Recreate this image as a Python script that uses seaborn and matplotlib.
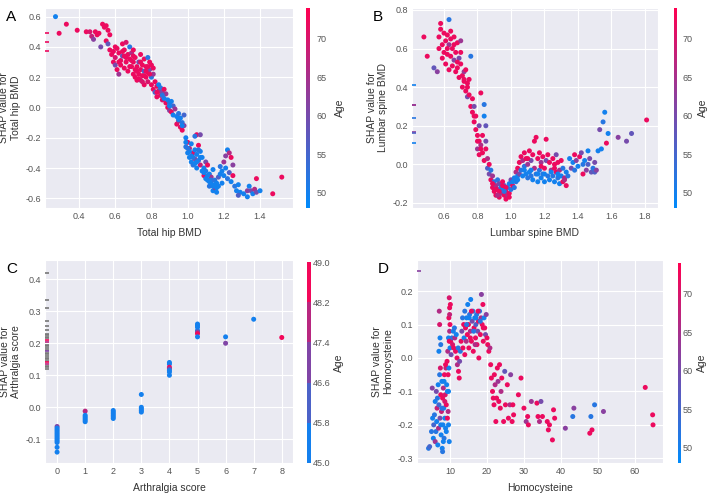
import numpy as np
import pandas as pd
import matplotlib
matplotlib.use('Agg')
import matplotlib.pyplot as plt
import matplotlib.colors as mcolors
from matplotlib.cm import ScalarMappable
import seaborn as sns

# ---- A: Total hip BMD ----
hip_bmd = [0.27, 0.29, 0.33, 0.39, 0.44, 0.46, 0.47, 0.48, 0.49, 0.50,
           0.51, 0.52, 0.53, 0.54, 0.55, 0.55, 0.56, 0.56, 0.57, 0.57,
           0.58, 0.59, 0.59, 0.60, 0.60, 0.61, 0.61, 0.62, 0.62, 0.63,
           0.63, 0.64, 0.64, 0.65, 0.65, 0.66, 0.66, 0.67, 0.67, 0.68,
           0.68, 0.69, 0.69, 0.70, 0.70, 0.70,
           0.71, 0.71, 0.72, 0.72, 0.73, 0.73, 0.74, 0.74, 0.74, 0.75,
           0.75, 0.76, 0.76, 0.76, 0.77, 0.77, 0.78, 0.78, 0.78, 0.79,
           0.79, 0.80, 0.80, 0.80, 0.81, 0.81,
           0.81, 0.82, 0.82, 0.83, 0.83, 0.84, 0.84, 0.85, 0.85, 0.86,
           0.86, 0.87, 0.87, 0.88, 0.88,
           0.89, 0.89, 0.90, 0.90, 0.91, 0.91, 0.92, 0.92, 0.93, 0.94,
           0.94, 0.95, 0.95, 0.96, 0.96, 0.97, 0.97, 0.98, 0.98,
           0.99, 0.99, 1.00, 1.00, 1.01, 1.01, 1.02, 1.02, 1.03, 1.03,
           1.04, 1.04, 1.05, 1.05, 1.06, 1.06, 1.07, 1.07, 1.08, 1.05,
           1.07, 1.04,
           1.09, 1.09, 1.10, 1.10, 1.11, 1.11, 1.12, 1.12, 1.13, 1.13,
           1.14, 1.14, 1.15, 1.15, 1.16, 1.16, 1.17, 1.17, 1.18,
           1.18, 1.19, 1.19, 1.20, 1.20, 1.21, 1.21, 1.22, 1.22, 1.23,
           1.23, 1.24, 1.24, 1.25, 1.25,
           1.26, 1.27, 1.28, 1.29, 1.28, 1.31, 1.33, 1.33, 1.34, 1.35,
           1.36, 1.37, 1.38, 1.38, 1.40, 1.47, 1.52,
           0.60, 0.62, 0.64, 0.66, 0.68, 0.70, 0.72, 0.74, 0.76, 0.78,
           0.65, 0.69, 0.73, 0.77, 0.71, 0.75, 0.79, 0.83, 0.86, 0.90,
           0.95, 0.97, 0.99, 1.01, 1.03, 1.05, 1.07, 1.09, 1.11, 1.13,
           1.15, 1.02, 1.06, 1.10, 1.14, 1.00, 1.04, 1.08, 1.12, 1.16]
hip_shap = [0.60, 0.49, 0.55, 0.51, 0.50, 0.50, 0.47, 0.45, 0.50, 0.48,
            0.49, 0.40, 0.55, 0.53, 0.54, 0.44, 0.51, 0.42, 0.48, 0.38,
            0.35, 0.37, 0.30, 0.33, 0.28, 0.25, 0.39, 0.22, 0.36, 0.31,
            0.28, 0.42, 0.34, 0.26, 0.38, 0.43, 0.30, 0.35, 0.24, 0.40,
            0.32, 0.27, 0.36, 0.22, 0.30, 0.38,
            0.33, 0.20, 0.27, 0.18, 0.30, 0.22, 0.35, 0.25, 0.18, 0.28,
            0.21, 0.32, 0.24, 0.15, 0.27, 0.20, 0.33, 0.23, 0.17, 0.30,
            0.25, 0.28, 0.20, 0.15, 0.22, 0.26,
            0.12, 0.17, 0.10, 0.14, 0.07, 0.15, 0.11, 0.08, 0.13, 0.05,
            0.10, 0.12, 0.06, 0.09, 0.03,
            0.05, 0.00, 0.03, -0.02, 0.04, -0.03, 0.01, -0.05, -0.01, -0.06,
            -0.11, -0.04, -0.09, -0.13, -0.07, -0.10, -0.15, -0.05, -0.12,
            -0.20, -0.26, -0.30, -0.23, -0.33, -0.27, -0.36, -0.24, -0.30, -0.38,
            -0.28, -0.34, -0.31, -0.40, -0.25, -0.35, -0.29, -0.38, -0.33, -0.18,
            -0.18, -0.19,
            -0.40, -0.45, -0.42, -0.36, -0.48, -0.38, -0.44, -0.52, -0.46, -0.50,
            -0.41, -0.55, -0.48, -0.53, -0.50, -0.56, -0.46, -0.52, -0.44,
            -0.39, -0.42, -0.50, -0.36, -0.45, -0.32, -0.40, -0.28, -0.47, -0.30,
            -0.43, -0.33, -0.49, -0.38, -0.45,
            -0.52, -0.55, -0.51, -0.56, -0.58, -0.57, -0.55, -0.59, -0.52, -0.55,
            -0.57, -0.54, -0.47, -0.56, -0.55, -0.57, -0.46,
            0.40, 0.30, 0.37, 0.33, 0.27, 0.34, 0.24, 0.30, 0.21, 0.27,
            0.34, 0.31, 0.19, 0.24, 0.25, 0.17, 0.22, 0.10, 0.08, 0.01,
            -0.08, -0.12, -0.23, -0.29, -0.33, -0.36, -0.33, -0.43, -0.45, -0.48,
            -0.51, -0.32, -0.28, -0.47, -0.52, -0.27, -0.37, -0.42, -0.49, -0.53]
hip_age = [50, 72, 72, 72, 72, 70, 68, 62, 72, 72,
           72, 60, 72, 72, 72, 72, 72, 58, 72, 72,
           72, 72, 72, 70, 60, 72, 72, 64, 72, 72,
           72, 72, 58, 72, 72, 70, 72, 72, 72, 52,
           72, 72, 66, 72, 72, 72,
           72, 72, 72, 72, 60, 72, 72, 72, 68, 72,
           72, 72, 55, 72, 72, 72, 52, 72, 70, 72,
           60, 72, 52, 72, 64, 72,
           72, 72, 55, 72, 72, 50, 66, 72, 52, 70,
           60, 72, 50, 64, 72,
           50, 72, 52, 62, 50, 72, 55, 50, 64, 50,
           72, 52, 66, 72, 50, 52, 72, 55, 62,
           50, 52, 50, 72, 50, 66, 50, 50, 72, 52,
           50, 60, 50, 50, 72, 52, 50, 68, 50, 72,
           60, 52,
           50, 72, 52, 60, 50, 72, 50, 52, 64, 50,
           50, 50, 52, 62, 50, 50, 56, 50, 50,
           52, 50, 50, 64, 50, 62, 50, 50, 52, 66,
           56, 72, 50, 62, 72,
           52, 50, 50, 50, 56, 50, 62, 50, 50, 60,
           50, 66, 72, 60, 50, 72, 72,
           72, 72, 72, 72, 72, 72, 72, 72, 72, 72,
           72, 72, 72, 72, 72, 70, 72, 72, 52, 50,
           50, 50, 50, 50, 52, 50, 50, 50, 50, 52,
           50, 50, 52, 50, 50, 52, 50, 50, 50, 50]
hip_nan_shap = [0.49, 0.43, 0.37]
hip_nan_age = [72, 72, 72]

# ---- B: Lumbar spine BMD ----
spine_bmd = [0.48, 0.50, 0.54, 0.56, 0.57, 0.58, 0.58, 0.57, 0.59, 0.59,
             0.60, 0.60, 0.61, 0.61, 0.62, 0.62, 0.63, 0.63, 0.63, 0.64,
             0.64, 0.65, 0.65, 0.66, 0.66, 0.67, 0.67, 0.68, 0.68, 0.69,
             0.69, 0.70, 0.70, 0.71, 0.71, 0.72, 0.72, 0.73, 0.73, 0.74,
             0.74, 0.75, 0.75, 0.76, 0.76, 0.77, 0.77, 0.78, 0.78, 0.79,
             0.79, 0.80, 0.80, 0.81, 0.81, 0.81, 0.82, 0.82, 0.83, 0.83,
             0.84, 0.84, 0.84, 0.85, 0.85, 0.85, 0.86, 0.86, 0.87, 0.87,
             0.88, 0.88, 0.89, 0.89, 0.90, 0.90, 0.91, 0.91, 0.92, 0.92,
             0.93, 0.93, 0.94, 0.94, 0.95, 0.95, 0.96, 0.96, 0.97, 0.97,
             0.98, 0.98, 0.99, 0.99, 1.00, 1.00, 1.01, 1.02, 1.02, 1.03,
             1.03, 1.04, 1.04, 1.05, 1.05, 1.06, 1.06, 1.07, 1.07, 1.08,
             1.08, 1.09, 1.09, 1.10, 1.10, 1.11, 1.11, 1.12, 1.12, 1.13,
             1.13, 1.14, 1.14, 1.15, 1.15, 1.16, 1.16, 1.17, 1.17, 1.18,
             1.18, 1.19, 1.19, 1.20, 1.20, 1.21, 1.21, 1.22, 1.22, 1.23,
             1.23, 1.24, 1.25, 1.25, 1.26, 1.26, 1.27, 1.27, 1.28, 1.28,
             1.29, 1.29, 1.30, 1.30, 1.31, 1.31, 1.32, 1.33, 1.33, 1.34,
             1.35, 1.36, 1.37, 1.38, 1.38, 1.39, 1.40, 1.41, 1.42, 1.43,
             1.43, 1.44, 1.45, 1.46, 1.46, 1.47, 1.48, 1.49, 1.50, 1.50,
             1.51, 1.52, 1.53, 1.54, 1.55, 1.56, 1.57, 1.58, 1.64, 1.69,
             1.72, 1.81,
             0.89, 0.91, 0.93, 0.95, 0.97, 0.99, 0.92, 0.96, 1.01, 1.04,
             1.08, 1.12, 1.16, 1.20, 1.24, 1.28, 1.32, 1.10, 1.18, 1.26,
             0.62, 0.66, 0.70, 0.74, 0.78, 0.80, 0.82, 0.64, 0.68, 0.72]
spine_shap = [0.66, 0.56, 0.50, 0.48, 0.66, 0.73, 0.70, 0.60, 0.62, 0.55,
              0.68, 0.58, 0.64, 0.52, 0.57, 0.67, 0.75, 0.62, 0.49, 0.69,
              0.56, 0.60, 0.51, 0.66, 0.54, 0.48, 0.58, 0.63, 0.50, 0.55,
              0.45, 0.64, 0.52, 0.46, 0.40, 0.48, 0.43, 0.49, 0.38, 0.42,
              0.35, 0.44, 0.36, 0.56, 0.30, 0.34, 0.27, 0.22, 0.30, 0.18,
              0.25, 0.15, 0.08, 0.20, 0.12, 0.05, 0.10, 0.37, 0.15, 0.06,
              0.25, 0.31, 0.02, 0.12, 0.08, 0.20, 0.03, -0.02, 0.00, -0.05,
              -0.03, -0.08, -0.06, -0.12, -0.09, -0.14, -0.11, -0.16, -0.08, -0.13,
              -0.10, -0.17, -0.12, -0.15, -0.09, -0.13, -0.16, -0.11, -0.14, -0.18,
              -0.12, -0.16, -0.10, -0.15, -0.13, -0.08, -0.11, -0.07, -0.12, -0.04,
              -0.09, -0.06, -0.02, -0.05, 0.01, -0.03, 0.04, -0.06, 0.02, -0.01,
              0.06, -0.05, 0.03, -0.07, 0.00, 0.07, -0.04, 0.02, -0.06, 0.05,
              -0.08, -0.02, 0.12, 0.14, -0.05, 0.03, -0.09, 0.06, -0.03, 0.01,
              -0.07, 0.04, -0.05, -0.02, -0.09, 0.02, 0.13, -0.06, 0.05, 0.01,
              -0.08, -0.03, 0.03, -0.06, 0.00, -0.09, -0.04, 0.05, -0.07, 0.01,
              -0.10, -0.03, 0.02, -0.06, -0.09, -0.02, -0.07, -0.04, -0.11, -0.06,
              0.03, -0.02, 0.01, 0.05, -0.03, 0.02, -0.01, 0.04, 0.06, -0.05,
              0.00, 0.02, -0.03, 0.07, 0.00, 0.03, -0.04, -0.02, 0.01, -0.04,
              -0.03, 0.07, 0.18, 0.08, 0.22, 0.27, 0.11, 0.16, 0.14, 0.12,
              0.16, 0.23,
              -0.10, -0.13, -0.14, -0.11, -0.12, -0.17, -0.16, -0.14, -0.09, -0.08,
              -0.03, -0.03, -0.05, -0.05, -0.04, -0.05, -0.08, 0.03, -0.01, -0.02,
              0.60, 0.62, 0.58, 0.40, 0.25, 0.12, 0.08, 0.65, 0.53, 0.44]
spine_age = [72, 72, 58, 62, 72, 72, 72, 72, 72, 72,
             72, 72, 72, 72, 72, 72, 52, 64, 72, 72,
             72, 72, 72, 72, 62, 72, 72, 72, 72, 60,
             72, 64, 72, 72, 72, 64, 72, 72, 72, 72,
             60, 72, 72, 52, 72, 72, 72, 72, 60, 72,
             72, 72, 64, 60, 72, 72, 66, 72, 72, 72,
             50, 52, 72, 60, 72, 58, 66, 56, 72, 60,
             52, 72, 64, 72, 52, 72, 66, 72, 52, 72,
             60, 72, 52, 64, 72, 50, 72, 58, 72, 72,
             52, 66, 50, 72, 52, 60, 72, 50, 52, 66,
             52, 50, 72, 60, 72, 52, 72, 50, 66, 52,
             72, 50, 72, 52, 64, 72, 50, 60, 52, 72,
             50, 66, 72, 72, 52, 72, 50, 72, 52, 64,
             50, 72, 52, 72, 50, 60, 72, 52, 72, 72,
             50, 66, 72, 52, 72, 50, 72, 60, 52, 72,
             50, 66, 72, 50, 72, 52, 66, 50, 72, 52,
             50, 60, 50, 72, 52, 62, 50, 72, 60, 72,
             52, 50, 62, 50, 56, 60, 58, 52, 60, 56,
             62, 50, 60, 50, 52, 50, 72, 50, 62, 60,
             58, 72,
             72, 72, 72, 72, 72, 72, 66, 52, 50, 50,
             50, 50, 50, 50, 50, 50, 66, 72, 72, 72,
             72, 72, 72, 72, 72, 72, 72, 72, 72, 72]
spine_nan_shap = [0.41, 0.31, 0.31, 0.24, 0.17, 0.16, 0.11]
spine_nan_age = [50, 62, 64, 52, 62, 56, 50]

# ---- C: Arthralgia score ----
arth_score = [0, 0, 0, 0, 0, 0, 0, 0, 0, 0, 0, 0, 0,
              1, 1, 1, 1, 1, 1,
              2, 2, 2, 2, 2, 2,
              3, 3, 3, 3, 3,
              4, 4, 4, 4, 4, 4, 4,
              5, 5, 5, 5, 5, 5, 5,
              6, 6, 7, 8]
arth_shap = [-0.06, -0.065, -0.07, -0.075, -0.08, -0.085, -0.09, -0.095, -0.10, -0.105, -0.11, -0.125, -0.14,
             -0.012, -0.025, -0.03, -0.035, -0.04, -0.045,
             -0.01, -0.015, -0.02, -0.025, -0.03, -0.035,
             0.04, 0.0, -0.005, -0.01, -0.015,
             0.14, 0.135, 0.125, 0.12, 0.115, 0.11, 0.10,
             0.26, 0.255, 0.25, 0.24, 0.235, 0.23, 0.22,
             0.22, 0.20, 0.275, 0.218]
arth_age = [47.0, 45.2, 45.2, 45.2, 45.2, 45.2, 45.2, 45.2, 45.2, 45.2, 45.2, 45.2, 45.2,
            47.6, 45.2, 45.2, 45.2, 45.2, 45.2,
            45.2, 45.2, 45.2, 45.2, 45.2, 45.2,
            45.2, 45.2, 45.2, 45.2, 45.2,
            45.2, 45.2, 48.8, 47.0, 45.2, 45.2, 45.2,
            45.2, 45.2, 45.2, 45.2, 47.0, 48.5, 45.2,
            45.2, 47.2, 45.2, 48.8]
arth_nan_grey = [0.42, 0.335, 0.31, 0.27, 0.255, 0.24, 0.23, 0.225, 0.22, 0.215,
                 0.195, 0.19, 0.185, 0.18, 0.17, 0.165, 0.16, 0.155, 0.15, 0.145,
                 0.13, 0.125, 0.12]
arth_nan_shap = [0.21, 0.205, 0.175, 0.14, 0.135]
arth_nan_age = [48.8, 48.0, 47.2, 48.8, 48.0]

# ---- D: Homocysteine ----
hcy = [4.2, 4.5, 5.0, 5.2, 5.3, 5.5, 5.6, 5.8, 6.0, 6.0,
       6.2, 6.3, 6.4, 6.5, 6.6, 6.7, 6.8, 6.9, 7.0, 7.0,
       7.1, 7.2, 7.2, 7.3, 7.3, 7.4, 7.5, 7.5, 7.6, 7.7,
       7.8, 7.9, 8.0, 8.0, 8.1, 8.2, 8.3, 8.4, 8.5, 8.6,
       8.7, 8.8, 8.9, 9.0, 9.1, 9.2, 9.3, 9.4, 9.5, 9.6,
       9.7, 9.8, 9.9, 9.9, 10.0, 10.0, 10.1, 10.2, 10.3, 10.5,
       10.7, 10.9, 11.0, 11.2, 11.3, 11.5, 11.7, 11.9, 12.0, 12.2,
       12.3, 12.5, 12.6, 12.8, 13.0, 13.2, 13.4, 13.5, 13.7, 13.8,
       14.0, 14.0, 14.2, 14.4, 14.5, 14.7, 14.8, 15.0, 15.1, 15.3,
       15.5, 15.6, 15.8, 16.0, 16.2, 16.3, 16.5, 16.7, 16.9, 17.0,
       17.2, 17.3, 17.5, 17.7, 17.8, 18.0, 18.2, 18.4, 18.5, 18.7,
       18.9, 19.0, 19.2, 19.4, 19.6, 19.8, 20.0, 20.2, 20.5, 20.8,
       21.0, 21.2, 21.5, 21.7, 21.9, 22.0, 22.2, 22.4, 22.6, 22.8,
       23.0, 23.2, 23.4, 23.6, 23.8, 24.0, 24.5, 24.8, 25.0, 25.5,
       25.8, 26.2, 26.4, 26.8, 27.0, 27.2, 28.5, 29.2, 30.0, 30.6,
       31.0, 31.2, 32.0, 33.5, 33.8, 34.2, 34.6, 35.0, 36.3, 36.6,
       36.9, 37.7, 38.0, 38.3, 41.2, 43.2, 43.5, 47.8, 48.1, 48.4,
       49.1, 51.5, 62.8, 64.8, 64.9, 9.6, 9.8, 9.5, 9.7, 9.9,
       7.5, 7.8, 8.2, 8.6, 9.0, 9.3, 9.6, 9.8, 8.4, 8.8,
       14.5, 15.2, 15.8, 16.4, 17.0, 17.6, 18.2, 19.0, 15.5, 16.8]
hcy_shap = [-0.27, -0.265, -0.22, -0.09, -0.18, -0.24, -0.20, -0.17, -0.13, -0.25,
            -0.22, -0.10, -0.19, -0.15, -0.12, -0.26, -0.08, -0.21, 0.02, -0.14,
            0.14, 0.10, -0.05, 0.06, -0.18, -0.03, -0.11, 0.04, -0.23, -0.16,
            -0.07, -0.27, -0.12, -0.28, -0.20, -0.09, -0.15, -0.24, -0.05, -0.18,
            -0.11, -0.21, -0.03, -0.14, -0.08, -0.01, -0.10, 0.02, -0.05, 0.06,
            0.12, 0.18, 0.15, 0.08, 0.10, 0.03, 0.16, 0.05, 0.01, 0.06,
            0.04, 0.08, 0.03, 0.09, 0.06, 0.02, 0.07, 0.00, -0.02, 0.03,
            -0.04, -0.06, -0.01, 0.02, 0.05, 0.08, 0.12, 0.03, 0.10, 0.06,
            0.14, 0.01, 0.09, 0.05, 0.12, 0.07, 0.16, 0.10, 0.03, 0.13,
            0.08, 0.175, 0.05, 0.11, 0.14, 0.02, 0.09, 0.12, 0.06, 0.10,
            0.13, 0.04, 0.08, 0.11, 0.00, 0.14, 0.07, 0.12, 0.19, 0.10,
            0.16, 0.05, 0.12, 0.09, 0.07, 0.13, 0.06, 0.04, 0.02, 0.03,
            -0.02, -0.06, -0.10, -0.12, -0.14, -0.05, -0.08, -0.19, -0.12, -0.03,
            -0.07, -0.13, -0.02, -0.15, -0.10, -0.06, -0.19, -0.04, -0.14, -0.08,
            -0.18, -0.14, -0.05, -0.19, -0.14, -0.17, -0.11, -0.06, -0.15, -0.19,
            -0.175, -0.20, -0.13, -0.135, -0.175, -0.19, -0.13, -0.175, -0.19, -0.215,
            -0.20, -0.245, -0.155, -0.18, -0.21, -0.175, -0.15, -0.225, -0.175, -0.215,
            -0.14, -0.16, -0.088, -0.17, -0.20, -0.20, -0.25, -0.16, -0.03, 0.13,
            -0.20, -0.15, -0.25, -0.13, -0.22, -0.18, -0.10, 0.05, -0.07, -0.02,
            0.10, 0.12, 0.14, 0.08, 0.12, 0.14, 0.11, 0.09, 0.06, 0.04]
hcy_age = [52, 55, 52, 62, 50, 50, 55, 52, 50, 64,
           52, 60, 50, 68, 52, 50, 50, 66, 50, 55,
           66, 70, 52, 50, 60, 70, 72, 52, 50, 68,
           50, 50, 72, 52, 50, 66, 50, 52, 72, 50,
           70, 50, 68, 72, 50, 72, 50, 66, 72, 50,
           72, 70, 72, 66, 72, 50, 72, 72, 60, 52,
           70, 50, 72, 52, 66, 72, 50, 72, 66, 52,
           72, 72, 60, 52, 72, 60, 52, 72, 72, 50,
           52, 72, 72, 66, 50, 72, 50, 72, 72, 52,
           66, 50, 72, 60, 52, 72, 72, 50, 72, 56,
           52, 72, 60, 72, 72, 52, 72, 66, 62, 72,
           72, 72, 50, 72, 60, 62, 72, 72, 72, 66,
           72, 72, 72, 72, 72, 72, 66, 72, 72, 72,
           64, 72, 72, 72, 66, 72, 72, 58, 72, 72,
           72, 66, 62, 72, 72, 72, 72, 72, 72, 64,
           72, 72, 64, 72, 72, 66, 60, 72, 72, 72,
           72, 72, 72, 72, 62, 52, 62, 72, 52, 72,
           52, 62, 72, 72, 72, 50, 50, 66, 50, 68,
           50, 52, 50, 70, 50, 72, 50, 72, 50, 72,
           52, 50, 72, 52, 50, 72, 52, 72, 72, 66]
hcy_nan_shap = [0.26]
hcy_nan_age = [62]

# Style
sns.set_style("darkgrid")
plt.rcParams['font.family'] = ['Liberation Sans', 'DejaVu Sans']
plt.rcParams['axes.unicode_minus'] = False

red_blue = mcolors.LinearSegmentedColormap.from_list('red_blue', ['#008bfb', '#ff0051'])
age_norm = mcolors.Normalize(48, 74)
arth_cmap = mcolors.ListedColormap([red_blue(v) for v in [0.08, 0.3, 0.5, 0.72, 0.95]])
arth_norm = mcolors.Normalize(45, 49)

TICK_COLOR = '#555555'
LABEL_COLOR = '#333333'


def dependence(ax, cax, x, y, age, cmap, norm, nan_y, nan_age, xlim, ylim,
               xticks, yticks, xlabel, ylabel, cticks, letter, cpad, lpad,
               cfmt=None, nan_grey=None):
    df = pd.DataFrame({'x': x, 'y': y, 'age': age})
    sns.scatterplot(data=df, x='x', y='y', hue='age', palette=cmap, hue_norm=norm,
                    s=13, linewidth=0, legend=False, ax=ax, zorder=3)
    # missing-value markers on the left edge
    if nan_grey is not None:
        ax.scatter(np.full(len(nan_grey), xlim[0]), nan_grey, marker='_', s=40,
                   color='#777777', linewidths=1.2, zorder=3)
    ax.scatter(np.full(len(nan_y), xlim[0]), nan_y, marker='_', s=40,
               color=cmap(norm(np.array(nan_age))), linewidths=1.2, zorder=4)
    ax.set_xlim(*xlim)
    ax.set_ylim(*ylim)
    ax.set_xticks(xticks)
    ax.set_yticks(yticks)
    ax.tick_params(labelsize=6.5, colors=TICK_COLOR, length=0, pad=3)
    ax.set_xlabel(xlabel, fontsize=7.5, color=LABEL_COLOR, labelpad=5)
    ax.set_ylabel(ylabel, fontsize=7.5, color=LABEL_COLOR, labelpad=3)

    cb = fig.colorbar(ScalarMappable(norm=norm, cmap=cmap), cax=cax, ticks=cticks)
    cb.outline.set_visible(False)
    cax.grid(False)
    cax.tick_params(labelsize=6.5, colors=TICK_COLOR, length=0, pad=cpad)
    if cfmt:
        cax.set_yticklabels([cfmt % t for t in cticks])
    cb.set_label('Age', fontsize=7.5, color=LABEL_COLOR, labelpad=lpad)

    bb = ax.get_position()
    fig.text(bb.x0 - 0.055, bb.y1 - 0.005, letter, fontsize=11, color='black',
             ha='left', va='top')


fig = plt.figure(figsize=(7.09, 4.95), dpi=100)
W, H = 709.0, 495.0


def box(x0, x1, y0, y1):
    return [x0 / W, 1 - y1 / H, (x1 - x0) / W, (y1 - y0) / H]


ax_a = fig.add_axes(box(45, 293, 8, 208))
cax_a = fig.add_axes(box(306, 310, 8, 208))
ax_b = fig.add_axes(box(412, 658, 8, 208))
cax_b = fig.add_axes(box(674, 677, 8, 208))
ax_c = fig.add_axes(box(45, 293, 260, 463))
cax_c = fig.add_axes(box(307, 311, 262, 463))
ax_d = fig.add_axes(box(417, 663, 260, 463))
cax_d = fig.add_axes(box(678, 681, 263, 463))

age_ticks = [50, 55, 60, 65, 70]

dependence(ax_a, cax_a, hip_bmd, hip_shap, hip_age, red_blue, age_norm,
           hip_nan_shap, hip_nan_age, (0.212, 1.582), (-0.664, 0.657),
           np.arange(0.4, 1.41, 0.2), np.arange(-0.6, 0.61, 0.2),
           'Total hip BMD', 'SHAP value for\nTotal hip BMD', age_ticks, 'A', 5, 6)

dependence(ax_b, cax_b, spine_bmd, spine_shap, spine_age, red_blue, age_norm,
           spine_nan_shap, spine_nan_age, (0.409, 1.878), (-0.226, 0.81),
           np.arange(0.6, 1.81, 0.2), np.arange(-0.2, 0.81, 0.2),
           'Lumbar spine BMD', 'SHAP value for\nLumbar spine BMD', age_ticks, 'B', 4, 3.5)

dependence(ax_c, cax_c, arth_score, arth_shap, arth_age, arth_cmap, arth_norm,
           arth_nan_shap, arth_nan_age, (-0.43, 8.4), (-0.174, 0.46),
           np.arange(0, 9), np.arange(-0.1, 0.41, 0.1),
           'Arthralgia score', 'SHAP value for\nArthralgia score',
           list(np.linspace(45, 49, 6)), 'C', 1, 3, cfmt='%.1f', nan_grey=arth_nan_grey)

dependence(ax_d, cax_d, hcy, hcy_shap, hcy_age, red_blue, age_norm,
           hcy_nan_shap, hcy_nan_age, (1.08, 67.6), (-0.314, 0.293),
           np.arange(10, 61, 10), np.arange(-0.3, 0.21, 0.1),
           'Homocysteine', 'SHAP value for\nHomocysteine', age_ticks, 'D', 1, 3.5)

fig.savefig('out.png', dpi=100)
